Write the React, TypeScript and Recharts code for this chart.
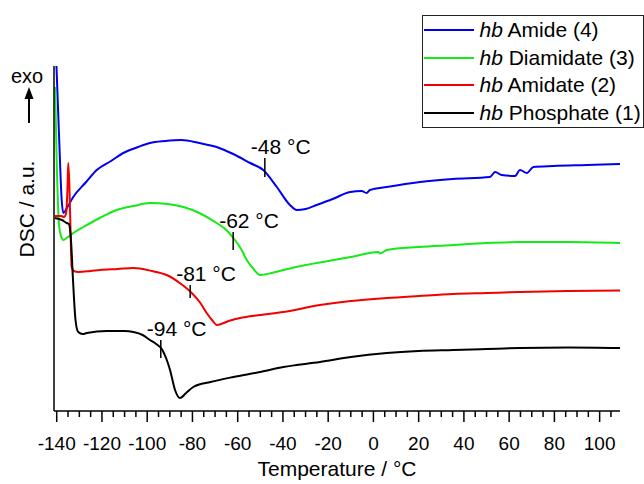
import React from 'react';
import { LineChart, Line, XAxis, YAxis, Legend, ReferenceLine } from 'recharts';

const FONT = '"Liberation Sans", Arial, sans-serif';

// temperatures (°C) and DSC signal (arbitrary units)
const amideT = [-140.7, -140.0, -138.9, -137.8, -137.1, -135.5, -132.7, -127, -122.3, -116, -110.6, -104, -98.8, -92, -84.8, -77, -69.3, -62, -54.5, -48.7, -42.7, -36.9, -33.9, -30, -25.1, -18, -10.3, -5.2, -3.0, -1.5, 5.9, 20.6, 35, 51.5, 53.8, 56.7, 62.6, 64.8, 67.8, 70.7, 79.5, 94.3, 109];
const amideV = [380, 338, 271, 211, 198, 203, 214, 229, 241, 250, 258, 264, 268, 270, 271, 268, 264, 257, 248, 241, 224, 206, 201, 202, 206, 212, 219, 220, 218, 221, 224, 229, 232, 234, 239, 236, 235, 241, 238, 244, 245, 246, 247];

const diamidateT = [-140.75, -139.9, -139.0, -138.1, -137.0, -135.6, -132, -128.2, -121, -113.5, -106, -98.8, -91, -84.0, -77, -69.3, -65, -61.9, -58.5, -56.0, -53, -50.1, -45, -39.8, -30, -23.6, -10, 2.2, 2.9, 5.9, 20, 35.3, 50, 64.8, 86.9, 109];
const diamidateV = [324, 241, 186, 175, 171, 173, 179, 184, 193, 201, 205, 208, 207, 204, 198, 188, 181, 173, 162, 151, 142, 136, 138, 141, 146, 148.5, 154, 159, 157.5, 161, 164, 166, 168, 169, 169, 168];

const amidateT = [-140.75, -138, -136.8, -135.9, -135.2, -134.9, -134.4, -133.9, -133.4, -132.4, -130.5, -125, -120.9, -113, -106.1, -98, -91.4, -85, -80.3, -76.5, -73.7, -71, -69.3, -64, -59.0, -50, -39.8, -23.6, -10, 5.9, 20, 35.3, 50, 64.8, 86, 109];
const amidateV = [195, 195, 194, 197, 226, 248, 226, 181, 144, 140, 139, 140, 141, 142, 143, 140, 136, 127, 118, 108, 98, 90, 86, 90, 93, 96, 99, 106, 110, 113, 115, 117, 118, 119, 120, 120.5];

const phosphateT = [-140.75, -137.7, -135.6, -134.6, -133.7, -132.8, -131.7, -130.5, -128.5, -126.7, -117.9, -110, -106.1, -102, -98.8, -96, -93.3, -91.5, -89.9, -87.7, -85.5, -82.8, -79.6, -72, -61.9, -50, -39.8, -23.6, -10, 5.9, 20, 35.3, 50, 64.8, 86, 109];
const phosphateV = [193, 191, 188, 187, 171, 131, 91, 79, 77, 78, 80, 80, 79, 76, 71, 67, 61, 52, 41, 21, 13, 18, 24, 29, 34, 39, 44, 49, 54, 58, 60, 61, 62, 63, 63.5, 63];

const seriesNames = ['hb Amide (4)', 'hb Diamidate (3)', 'hb Amidate (2)', 'hb Phosphate (1)'];
const seriesColors = ['#0000f0', '#14ea14', '#f20000', '#000000'];

// glass transition markers: temperature, tick bottom, tick top
const tgTemps = [-48, -62, -81, -94];
const tgLow = [234, 161, 113, 53];
const tgHigh = [253, 179, 126, 71];

const xTicks = [-140, -135, -130, -125, -120, -115, -110, -105, -100, -95, -90, -85, -80, -75, -70, -65, -60, -55, -50, -45, -40, -35, -30, -25, -20, -15, -10, -5, 0, 5, 10, 15, 20, 25, 30, 35, 40, 45, 50, 55, 60, 65, 70, 75, 80, 85, 90, 95, 100, 105];

const zip = (ts: number[], vs: number[]) => ts.map((t, i) => ({ t, v: vs[i] }));

const series = [
  zip(amideT, amideV),
  zip(diamidateT, diamidateV),
  zip(amidateT, amidateV),
  zip(phosphateT, phosphateV),
];

function TempTick(props: any) {
  const { x, y, payload } = props;
  const major = payload.value % 20 === 0;
  return (
    <g>
      <line x1={x} x2={x} y1={y} y2={y + (major ? 11 : 6)} stroke="#000" strokeWidth={1.5} />
      {major && (
        <text x={x} y={y + 39} textAnchor="middle" fontSize={19} fontFamily={FONT} fill="#000">
          {payload.value}
        </text>
      )}
    </g>
  );
}

function LegendBox(props: any) {
  const items = [...(props.payload || [])].sort(
    (a: any, b: any) => seriesNames.indexOf(a.value) - seriesNames.indexOf(b.value)
  );
  return (
    <div style={{ border: '1.5px solid #222', background: '#fff', width: 222, boxSizing: 'border-box', fontFamily: FONT, fontSize: 21, color: '#000' }}>
      {items.map((p: any) => {
        const [pre, ...rest] = String(p.value).split(' ');
        return (
          <div key={p.value} style={{ height: 27.7, display: 'flex', alignItems: 'center' }}>
            <svg width={50} height={4} style={{ marginLeft: 0.5, flex: 'none' }}>
              <line x1={0} x2={50} y1={2} y2={2} stroke={p.color} strokeWidth={2.2} />
            </svg>
            <span style={{ marginLeft: 6, whiteSpace: 'nowrap' }}>
              <i>{pre}</i> {rest.join(' ')}
            </span>
          </div>
        );
      })}
    </div>
  );
}

const markerLabel = (text: string) => (props: any) => {
  const vb = props.viewBox || { x: 0, y: 0 };
  return (
    <text x={vb.x - 14} y={vb.y - 4} fontSize={21} fontFamily={FONT} fill="#000">
      {text}
    </text>
  );
};

export default function App() {
  return (
    <div style={{ position: 'absolute', left: 0, top: 0, background: '#fff' }}>
      <LineChart width={644} height={484} margin={{ top: 66, right: 24, bottom: 72, left: 53 }}>
        <XAxis
          type="number"
          dataKey="t"
          domain={[-141.2, 109]}
          allowDataOverflow
          ticks={xTicks}
          interval={0}
          tickSize={0}
          tickMargin={0}
          tickLine={false}
          tick={(p: any) => <TempTick {...p} />}
          height={1}
          axisLine={{ stroke: '#000', strokeWidth: 1.5 }}
        />
        <YAxis
          type="number"
          dataKey="v"
          domain={[0, 345]}
          allowDataOverflow
          width={1}
          tick={false}
          tickLine={false}
          axisLine={{ stroke: '#000', strokeWidth: 1.5 }}
        />
        {series.map((d, i) => (
          <Line
            key={seriesNames[i]}
            data={d}
            dataKey="v"
            name={seriesNames[i]}
            type="monotone"
            stroke={seriesColors[i]}
            strokeWidth={2}
            dot={false}
            activeDot={false}
            isAnimationActive={false}
          />
        ))}
        {tgTemps.map((t, i) => (
          <ReferenceLine
            key={t}
            segment={[{ x: t, y: tgLow[i] }, { x: t, y: tgHigh[i] }]}
            stroke="#000"
            strokeWidth={1.5}
            label={markerLabel(`${t} °C`)}
          />
        ))}
        <Legend
          layout="vertical"
          align="center"
          verticalAlign="middle"
          content={(p: any) => <LegendBox {...p} />}
          wrapperStyle={{ position: 'absolute', left: 422, top: 15, width: 222 }}
        />
        <g>
          <text x={27} y={83} textAnchor="middle" fontSize={20} fontFamily={FONT} fill="#000">exo</text>
          <line x1={29} y1={123} x2={29} y2={97} stroke="#000" strokeWidth={2} />
          <polygon points="24.5,99 29,87 33.5,99" fill="#000" />
          <text transform="translate(26.5,209) rotate(-90)" x={0} y={0} textAnchor="middle" dominantBaseline="central" fontSize={21} fontFamily={FONT} fill="#000">
            DSC / a.u.
          </text>
          <text x={337} y={476} textAnchor="middle" fontSize={21} fontFamily={FONT} fill="#000">
            Temperature / °C
          </text>
        </g>
      </LineChart>
    </div>
  );
}
